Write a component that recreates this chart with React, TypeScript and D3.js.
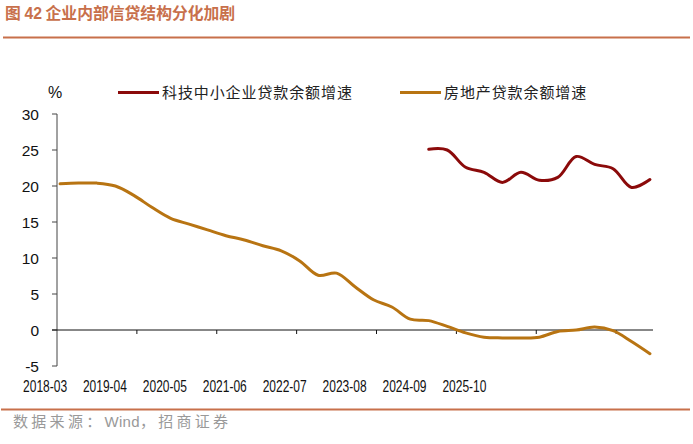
import * as d3 from 'd3'

// quarter-end months
const quarters = [
  '2018-03', '2018-06', '2018-09', '2018-12',
  '2019-03', '2019-06', '2019-09', '2019-12',
  '2020-03', '2020-06', '2020-09', '2020-12',
  '2021-03', '2021-06', '2021-09', '2021-12',
  '2022-03', '2022-06', '2022-09', '2022-12',
  '2023-03', '2023-06', '2023-09', '2023-12',
  '2024-03', '2024-06', '2024-09', '2024-12',
  '2025-03', '2025-06', '2025-09', '2025-12',
  '2026-03',
]

// 房地产贷款余额增速 (%)
const realEstate = [
  20.3, 20.4, 20.4, 20.0,
  18.7, 17.0, 15.5, 14.7,
  13.9, 13.1, 12.5, 11.7,
  11.0, 9.6, 7.6, 7.9,
  6.0, 4.2, 3.2, 1.5,
  1.3, 0.5, -0.4, -1.0,
  -1.1, -1.1, -1.0, -0.2,
  0.0, 0.4, -0.1, -1.6,
  -3.3,
]

// 科技中小企业贷款余额增速 (%), starts 2023-03
const techSme = [
  null, null, null, null,
  null, null, null, null,
  null, null, null, null,
  null, null, null, null,
  null, null, null, null,
  25.1, 25.0, 22.6, 21.9,
  20.5, 21.9, 20.8, 21.2,
  24.1, 23.0, 22.4, 19.8,
  20.9,
]

const xLabels = ['2018-03', '2019-04', '2020-05', '2021-06', '2022-07', '2023-08', '2024-09', '2025-10']
const yTicks = [-5, 0, 5, 10, 15, 20, 25, 30]

const seriesNames = ['科技中小企业贷款余额增速', '房地产贷款余额增速']
const colors = ['#8B0A0A', '#B87412']
const accent = '#C8704B'

const W = 693
const H = 444
const plot = { left: 57, right: 653, top: 114, bottom: 366 }

const fmt = d3.timeFormat('%Y-%m')
const parse = d3.timeParse('%Y-%m')
const months = d3.timeMonth.range(parse('2018-03')!, parse('2026-04')!).map(fmt)

const App = () => {
  const x = d3.scaleBand<string>().domain(months).range([plot.left, plot.right])
  const bw = x.bandwidth()
  const cx = (m: string) => (x(m) ?? 0) + bw / 2
  const y = d3.scaleLinear().domain([-5, 30]).range([plot.bottom, plot.top])

  const line = d3
    .line<[string, number | null]>()
    .defined(d => d[1] != null)
    .x(d => cx(d[0]))
    .y(d => y(d[1] as number))
    .curve(d3.curveCatmullRom.alpha(0.5))

  const tickMonths = months.filter((_, i) => i % 13 === 0 && i > 0)
  const series = [techSme, realEstate]
  const numFont = '"Liberation Sans", Arial, sans-serif'
  const cjkFont = '"Noto Sans CJK SC", sans-serif'
  // the category labels in the source are squeezed horizontally
  const squeeze = 0.75

  return (
    <svg width={W} height={H} style={{ position: 'absolute', left: 0, top: 0, background: '#fff' }}>
      {/* title */}
      <text x={5} y={19} fill={accent} fontFamily={cjkFont} fontSize={15.8} fontWeight={700}>
        图 <tspan fontFamily={numFont} fontWeight={700}>42</tspan> 企业内部信贷结构分化加剧
      </text>
      <line x1={3} x2={690} y1={37.5} y2={37.5} stroke={accent} strokeWidth={2} />

      {/* legend */}
      {seriesNames.map((name, i) => {
        const lx = i === 0 ? 118 : 400
        return (
          <g key={name}>
            <line x1={lx} x2={lx + 41} y1={92.5} y2={92.5} stroke={colors[i]} strokeWidth={3} />
            <text x={lx + 44} y={98} fontFamily={cjkFont} fontSize={15} letterSpacing={0.9} fill="#222">
              {name}
            </text>
          </g>
        )
      })}

      {/* y axis */}
      <text x={55} y={98} textAnchor="middle" fontFamily={numFont} fontSize={16} fill="#111">%</text>
      <line x1={plot.left} x2={plot.left} y1={plot.top} y2={plot.bottom} stroke="#444" strokeWidth={1} />
      {yTicks.map(t => (
        <g key={t}>
          <line x1={plot.left - 5} x2={plot.left} y1={y(t)} y2={y(t)} stroke="#444" strokeWidth={1} />
          <text x={39} y={y(t) + 5.5} textAnchor="end" fontFamily={numFont} fontSize={15.5} fill="#111">
            {t}
          </text>
        </g>
      ))}

      {/* x axis on zero */}
      <line x1={plot.left - 5} x2={plot.right} y1={y(0)} y2={y(0)} stroke="#111" strokeWidth={1} />
      {tickMonths.map(m => (
        <line key={m} x1={x(m)} x2={x(m)} y1={y(0)} y2={y(0) + 4} stroke="#111" strokeWidth={1} />
      ))}
      <g transform={`scale(${squeeze},1)`}>
        {xLabels.map(l => (
          <text key={l} x={cx(l)} y={392} textAnchor="middle" fontFamily={numFont} fontSize={16} fill="#111">
            {l}
          </text>
        ))}
      </g>

      {/* series */}
      {series.map((vals, i) => (
        <path
          key={seriesNames[i]}
          d={line(quarters.map((q, j) => [q, vals[j]] as [string, number | null])) ?? ''}
          fill="none"
          stroke={colors[i]}
          strokeWidth={3}
          strokeLinejoin="round"
          strokeLinecap="round"
        />
      ))}

      {/* footer */}
      <line x1={1} x2={690} y1={409.5} y2={409.5} stroke={accent} strokeWidth={2} />
      <text x={13} y={427} fontFamily={cjkFont} fontSize={15} letterSpacing={3.3} fill="#999">
        数据来源：<tspan fontFamily={numFont} letterSpacing={0.3}>Wind</tspan>，招商证券
      </text>
    </svg>
  )
}

export default App
